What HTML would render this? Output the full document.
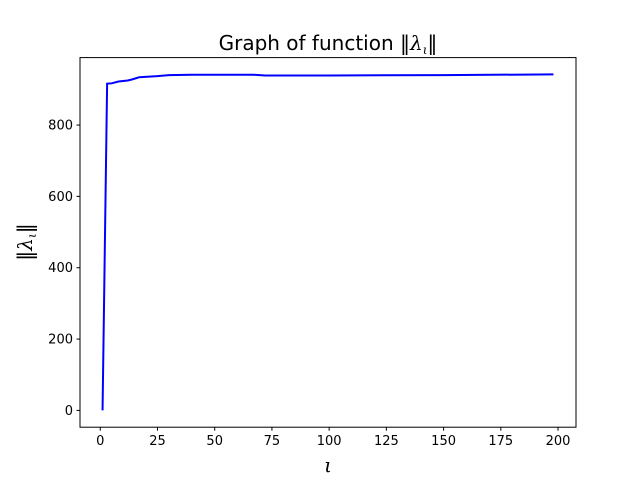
<!DOCTYPE html>
<html><head><meta charset="utf-8"><style>
body{margin:0;background:#fff;font-family:"DejaVu Sans","Liberation Sans",sans-serif}
</style></head><body>
<svg id="chart" width="640" height="480" xmlns="http://www.w3.org/2000/svg" font-family="DejaVu Sans, Liberation Sans, sans-serif">
<rect width="640" height="480" fill="#fff"/>
<text x="328" y="50" font-size="20" text-anchor="middle">Graph of function ‖<tspan font-family="DejaVu Serif, serif" font-style="italic">λ</tspan><tspan font-size="12" dy="4" font-family="DejaVu Serif, serif" font-style="italic">ι</tspan><tspan dy="-4">‖</tspan></text>
<text x="328" y="472" font-size="20" font-family="DejaVu Serif, serif" font-style="italic" text-anchor="middle">ι</text>
<text transform="translate(32,242) rotate(-90)" font-size="20" text-anchor="middle">‖<tspan font-family="DejaVu Serif, serif" font-style="italic">λ</tspan><tspan font-size="12" dy="4" font-family="DejaVu Serif, serif" font-style="italic">ι</tspan><tspan dy="-4">‖</tspan></text>
<g id="ticks"></g>
<path id="line" fill="none" stroke="#0000ff" stroke-width="2"/>
<rect x="80" y="57.6" width="496" height="369.6" fill="none" stroke="#000" stroke-width="1"/>
</svg>
<script>
const xs=[1,3,5,8,12,14,17,25,30,40,67,72,100,150,198];
const ys=[0,916,917,922,925,928,934,937,940,941,941,939,939,940,942];
const xTicks=[0,25,50,75,100,125,150,175,200];
const yTicks=[0,200,400,600,800];
const X0=80,X1=576,Y0=427.2,Y1=57.6;
const xmin=-8.85,xmax=207.85,ymin=-47.1,ymax=989.1;
const sx=v=>X0+(v-xmin)/(xmax-xmin)*(X1-X0);
const sy=v=>Y0-(v-ymin)/(ymax-ymin)*(Y0-Y1);
const ns="http://www.w3.org/2000/svg";
const g=document.getElementById('ticks');
function mk(t,a){const e=document.createElementNS(ns,t);for(const k in a)e.setAttribute(k,a[k]);g.appendChild(e);return e;}
xTicks.forEach(t=>{const x=sx(t);
const l=mk('line',{x1:x,x2:x,y1:Y0,y2:Y0+3.5,stroke:'#000'});


const s=mk('text',{x:x,y:Y0+18,'font-size':'13','text-anchor':'middle'});s.textContent=t;

});
yTicks.forEach(t=>{const y=sy(t);
const l=mk('line',{x1:X0-3.5,x2:X0,y1:y,y2:y,stroke:'#000'});


const s=mk('text',{x:X0-7,y:y+4.5,'font-size':'13','text-anchor':'end'});s.textContent=t;

});
document.getElementById('line').setAttribute('d',xs.map((x,i)=>(i?'L':'M')+sx(x).toFixed(2)+','+sy(ys[i]).toFixed(2)).join(''));
</script>
</body></html>
